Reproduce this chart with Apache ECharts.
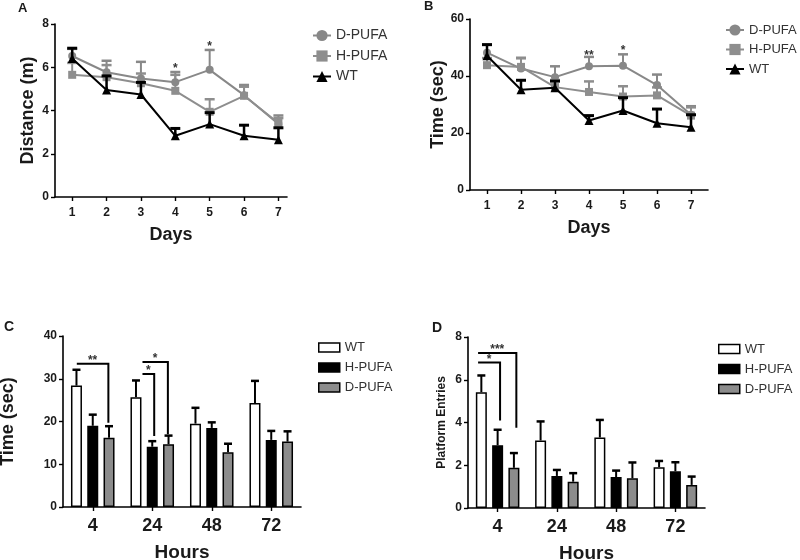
<!DOCTYPE html>
<html><head><meta charset="utf-8">
<script src="https://cdn.jsdelivr.net/npm/echarts@6/dist/echarts.min.js"></script>
<style>html,body{margin:0;padding:0;background:#fff}#c{width:800px;height:560px}</style>
</head><body><div id="c"></div>
<script>
// ---------- data ----------
const days = [1, 2, 3, 4, 5, 6, 7];
// Panel A: distance (m)
const distD = [6.52, 5.77, 5.48, 5.31, 5.88, 4.71, 3.38];
const distDsem = [0.33, 0.53, 0.77, 0.47, 0.92, 0.47, 0.39];
const distH = [5.65, 5.54, 5.26, 4.91, 3.94, 4.68, 3.42];
const distHsem = [0.55, 0.56, 0.45, 0.74, 0.58, 0.42, 0.23];
const distWT = [6.40, 4.95, 4.74, 2.83, 3.37, 2.83, 2.65];
const distWTsem = [0.48, 0.65, 0.56, 0.34, 0.53, 0.49, 0.55];
// Panel B: time (sec)
const timeD = [48.2, 42.6, 39.6, 43.4, 43.6, 36.8, 26.4];
const timeDsem = [2.8, 3.8, 3.8, 3.3, 4.0, 3.7, 3.0];
const timeH = [43.8, 43.2, 36.1, 34.4, 32.8, 33.2, 26.1];
const timeHsem = [2.5, 3.0, 2.5, 3.7, 3.6, 2.8, 2.9];
const timeWT = [47.1, 35.2, 35.9, 24.4, 27.9, 23.4, 22.0];
const timeWTsem = [3.9, 3.3, 2.3, 1.7, 4.5, 5.0, 4.4];
// significance stars for A / B  [day, value, text]
const starsA = [[4, 5.95, '*'], [5, 6.95, '*']];
const starsB = [[4, 47.3, '**'], [5, 49.0, '*']];
// Panel C: probe time (sec)
const hours = ['4', '24', '48', '72'];
const probeWT = [28.4, 25.7, 19.5, 24.3];
const probeWTsem = [3.7, 3.9, 3.7, 5.2];
const probeH = [19.0, 14.1, 18.5, 15.7];
const probeHsem = [2.6, 1.3, 1.3, 2.1];
const probeD = [16.2, 14.7, 12.8, 15.3];
const probeDsem = [2.7, 2.0, 2.0, 2.4];
// Panel D: platform entries
const entWT = [5.42, 3.16, 3.30, 1.91];
const entWTsem = [0.78, 0.89, 0.82, 0.29];
const entH = [2.94, 1.50, 1.45, 1.72];
const entHsem = [0.72, 0.28, 0.30, 0.42];
const entD = [1.88, 1.23, 1.39, 1.08];
const entDsem = [0.69, 0.40, 0.74, 0.39];
// brackets: [hour index, from bar, to bar, line value, drop-to value, label]
const bracketsC = [[0, -0.98, 0.96, 33.5, 19.7, '**'], [1, -0.6, 0.12, 31.1, 16.6, '*'], [1, -0.6, 0.96, 33.9, 17.0, '*']];
const bracketsD = [[0, -1.2, 0.15, 6.81, 4.09, '*'], [0, -1.2, 1.15, 7.25, 3.75, '***']];

// ---------- style ----------
const FONT = 'Liberation Sans, Arial, sans-serif';
const INK = '#1a1a1a';
const GRAY_D = '#888888';
const GRAY_H = '#8e8e8e';
const BAR_W = 11;
const BAR_STEP = BAR_W * 1.48;

const chart = echarts.init(document.getElementById('c'), null, {renderer: 'canvas'});

function pairs(xs, ys, ss) { return xs.map((x, i) => ss ? [x, ys[i], ss[i]] : [x, ys[i]]); }

function errLine(color, lw, cap) {
  return function (params, api) {
    const x = api.value(0), m = api.value(1), s = api.value(2);
    const p0 = api.coord([x, m]), p1 = api.coord([x, m + s]);
    return {type: 'group', children: [
      {type: 'line', shape: {x1: p0[0], y1: p0[1], x2: p1[0], y2: p1[1]}, style: {stroke: color, lineWidth: lw}},
      {type: 'line', shape: {x1: p1[0] - cap, y1: p1[1], x2: p1[0] + cap, y2: p1[1]}, style: {stroke: color, lineWidth: lw + 0.5}}
    ]};
  };
}
function errBar(offset) {
  return function (params, api) {
    const c = api.value(0), m = api.value(1), s = api.value(2);
    const p0 = api.coord([c, m]), p1 = api.coord([c, m + s]);
    const x = p0[0] + offset * BAR_STEP;
    return {type: 'group', children: [
      {type: 'line', shape: {x1: x, y1: p0[1], x2: x, y2: p1[1]}, style: {stroke: '#000', lineWidth: 2}},
      {type: 'line', shape: {x1: x - 4, y1: p1[1], x2: x + 4, y2: p1[1]}, style: {stroke: '#000', lineWidth: 2.5}}
    ]};
  };
}
function starRender(list) {
  return function (params, api) {
    const p = api.coord([api.value(0), api.value(1)]);
    return {type: 'text', x: p[0], y: p[1], style: {text: list[params.dataIndex][2], font: 'bold 12px ' + FONT, fill: '#333', align: 'center', verticalAlign: 'middle'}};
  };
}
function bracketRender(list) {
  return function (params, api) {
    const b = list[params.dataIndex];
    const pl = api.coord([b[0], b[3]]), pd = api.coord([b[0], b[4]]);
    const x1 = pl[0] + b[1] * BAR_STEP, x2 = pl[0] + b[2] * BAR_STEP;
    return {type: 'group', children: [
      {type: 'polyline', shape: {points: [[x1, pl[1]], [x2, pl[1]], [x2, pd[1]]]}, style: {stroke: '#000', lineWidth: 2, fill: null}},
      {type: 'text', x: (x1 + x2) / 2, y: pl[1] - 3, style: {text: b[5], font: 'bold 12px ' + FONT, fill: '#333', align: 'center', verticalAlign: 'middle'}}
    ]};
  };
}

const axisLine = {show: true, onZero: false, lineStyle: {color: '#000', width: 1.6}};
const tickStyle = {color: '#000', width: 1.4};
function yAx(grid, max, interval, name, nameGap, nameSize) {
  return {gridIndex: grid, type: 'value', min: 0, max: max, interval: interval,
    axisLine: axisLine, axisTick: {show: true, length: 4, lineStyle: tickStyle},
    axisLabel: {fontFamily: FONT, fontWeight: 'bold', fontSize: 12, color: INK, margin: 6},
    splitLine: {show: false},
    name: name, nameLocation: 'middle', nameGap: nameGap,
    nameTextStyle: {fontFamily: FONT, fontWeight: 'bold', fontSize: nameSize, color: INK}};
}
function xDays(grid, max, nameGap) {
  return {gridIndex: grid, type: 'value', min: 0.5, max: max,
    axisLine: axisLine,
    axisTick: {show: true, length: 4, lineStyle: tickStyle, customValues: days},
    axisLabel: {customValues: days, fontFamily: FONT, fontWeight: 'bold', fontSize: 12, color: INK, margin: 10},
    splitLine: {show: false},
    name: 'Days', nameLocation: 'middle', nameGap: nameGap,
    nameTextStyle: {fontFamily: FONT, fontWeight: 'bold', fontSize: 18, color: INK}};
}
function xHours(grid) {
  return {gridIndex: grid, type: 'category', data: hours,
    axisLine: axisLine,
    axisTick: {show: true, length: 4, alignWithLabel: true, lineStyle: tickStyle},
    axisLabel: {fontFamily: FONT, fontWeight: 'bold', fontSize: 18, color: INK, margin: 10},
    name: 'Hours', nameLocation: 'middle', nameGap: 36,
    nameTextStyle: {fontFamily: FONT, fontWeight: 'bold', fontSize: 19, color: INK}};
}
function lineSeries(name, g, xs, ys, color, symbol, size, z) {
  return {type: 'line', name: name, xAxisIndex: g, yAxisIndex: g, data: pairs(xs, ys),
    symbol: symbol, symbolSize: size, showSymbol: true, z: z,
    lineStyle: {color: color, width: 2}, itemStyle: {color: color}, animation: false};
}
function errSeries(g, xs, ys, ss, color, lw, z) {
  return {type: 'custom', name: 'err', xAxisIndex: g, yAxisIndex: g, data: pairs(xs, ys, ss),
    renderItem: errLine(color, lw, 5), z: z, animation: false, silent: true};
}
function barSeries(name, g, ys, color) {
  return {type: 'bar', name: name, xAxisIndex: g, yAxisIndex: g, data: ys, barWidth: BAR_W, barGap: '48%',
    itemStyle: {color: color, borderColor: '#000', borderWidth: 1.5}, z: 3, animation: false};
}
function barErrSeries(g, ys, ss, offset) {
  return {type: 'custom', name: 'berr', xAxisIndex: g, yAxisIndex: g,
    data: ys.map((v, i) => [i, v, ss[i]]), renderItem: errBar(offset), z: 2, animation: false, silent: true};
}
function lineLegend(left, top, size) {
  return {orient: 'vertical', left: left, top: top, padding: 0, itemWidth: 18, itemHeight: 14, itemGap: 6.5,
    textStyle: {fontFamily: FONT, fontSize: size, color: '#333'}, selectedMode: false,
    data: ['D-PUFA', 'H-PUFA', 'WT']};
}
function barLegend(left, top) {
  return {orient: 'vertical', left: left, top: top, padding: 0, itemWidth: 21, itemHeight: 9, itemGap: 7,
    textStyle: {fontFamily: FONT, fontSize: 13, color: '#333'}, selectedMode: false,
    data: [
      {name: 'WT', icon: 'rect', itemStyle: {color: '#fff', borderColor: '#000', borderWidth: 1.5}},
      {name: 'H-PUFA', icon: 'rect', itemStyle: {color: '#000', borderColor: '#000', borderWidth: 1.5}},
      {name: 'D-PUFA', icon: 'rect', itemStyle: {color: '#8c8c8c', borderColor: '#000', borderWidth: 1.5}}
    ]};
}
function grid(l, t, w, h) { return {left: l, top: t, width: w, height: h, containLabel: false, outerBoundsMode: 'none'}; }

const option = {
  backgroundColor: '#fff',
  animation: false,
  graphic: [
    {type: 'text', left: 18, top: 2, style: {text: 'A', font: 'bold 13px ' + FONT, fill: INK}},
    {type: 'text', left: 424, top: 0, style: {text: 'B', font: 'bold 13px ' + FONT, fill: INK}},
    {type: 'text', left: 4, top: 320, style: {text: 'C', font: 'bold 14px ' + FONT, fill: INK}},
    {type: 'text', left: 432, top: 321, style: {text: 'D', font: 'bold 14px ' + FONT, fill: INK}}
  ],
  grid: [
    grid(55, 24, 232, 173),
    grid(470, 19, 238, 171),
    grid(63, 336, 238, 171),
    grid(468, 337, 237, 171)
  ],
  xAxis: [xDays(0, 7.25, 29), xDays(1, 7.5, 29), xHours(2), xHours(3)],
  yAxis: [
    yAx(0, 8, 2, 'Distance (m)', 18, 18),
    yAx(1, 60, 20, 'Time (sec)', 21, 18),
    yAx(2, 40, 10, 'Time (sec)', 46, 18),
    yAx(3, 8, 2, 'Platform Entries', 20, 12)
  ],
  legend: [
    lineLegend(312, 28.5, 14),
    lineLegend(725, 23.5, 13),
    barLegend(318, 341),
    barLegend(718, 342.5)
  ],
  series: [
    // A
    lineSeries('D-PUFA', 0, days, distD, GRAY_D, 'circle', 8, 4),
    lineSeries('H-PUFA', 0, days, distH, GRAY_H, 'rect', 8, 4),
    lineSeries('WT', 0, days, distWT, '#000', 'triangle', 9, 6),
    errSeries(0, days, distD, distDsem, GRAY_D, 2, 3),
    errSeries(0, days, distH, distHsem, GRAY_H, 2, 3),
    errSeries(0, days, distWT, distWTsem, '#000', 2.5, 5),
    {type: 'custom', name: 'starsA', xAxisIndex: 0, yAxisIndex: 0, data: starsA.map(s => [s[0], s[1]]), renderItem: starRender(starsA), z: 7, silent: true},
    // B
    lineSeries('D-PUFA', 1, days, timeD, GRAY_D, 'circle', 8, 4),
    lineSeries('H-PUFA', 1, days, timeH, GRAY_H, 'rect', 8, 4),
    lineSeries('WT', 1, days, timeWT, '#000', 'triangle', 9, 6),
    errSeries(1, days, timeD, timeDsem, GRAY_D, 2, 3),
    errSeries(1, days, timeH, timeHsem, GRAY_H, 2, 3),
    errSeries(1, days, timeWT, timeWTsem, '#000', 2.5, 5),
    {type: 'custom', name: 'starsB', xAxisIndex: 1, yAxisIndex: 1, data: starsB.map(s => [s[0], s[1]]), renderItem: starRender(starsB), z: 7, silent: true},
    // C
    barSeries('WT', 2, probeWT, '#ffffff'),
    barSeries('H-PUFA', 2, probeH, '#000000'),
    barSeries('D-PUFA', 2, probeD, '#8c8c8c'),
    barErrSeries(2, probeWT, probeWTsem, -1),
    barErrSeries(2, probeH, probeHsem, 0),
    barErrSeries(2, probeD, probeDsem, 1),
    {type: 'custom', name: 'brC', xAxisIndex: 2, yAxisIndex: 2, data: bracketsC.map(b => [b[0], b[3]]), renderItem: bracketRender(bracketsC), z: 7, silent: true},
    // D
    barSeries('WT', 3, entWT, '#ffffff'),
    barSeries('H-PUFA', 3, entH, '#000000'),
    barSeries('D-PUFA', 3, entD, '#8c8c8c'),
    barErrSeries(3, entWT, entWTsem, -1),
    barErrSeries(3, entH, entHsem, 0),
    barErrSeries(3, entD, entDsem, 1),
    {type: 'custom', name: 'brD', xAxisIndex: 3, yAxisIndex: 3, data: bracketsD.map(b => [b[0], b[3]]), renderItem: bracketRender(bracketsD), z: 7, silent: true}
  ]
};
chart.setOption(option);
</script></body></html>
